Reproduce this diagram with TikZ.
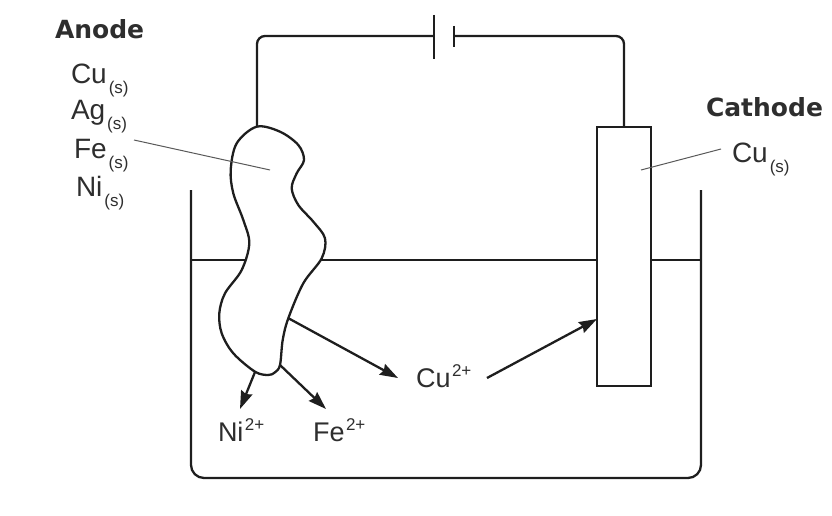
\documentclass[tikz,border=0pt]{standalone}
\usepackage{fontspec}
\setmainfont{Liberation Sans}
\newfontfamily\headfont[BoldFont={DejaVu Sans Bold}]{DejaVu Sans}
\usetikzlibrary{arrows.meta}
\definecolor{ink}{HTML}{1E1E1E}
\definecolor{txt}{HTML}{2E2E2E}
\newcommand{\subs}{\kern2pt\raisebox{-10pt}{\fontsize{17}{17}\selectfont (s)}}
\newcommand{\sups}[1]{\kern1.5pt\raisebox{11pt}{\fontsize{17}{17}\selectfont #1}}
\tikzset{
  x=1pt,y=-1pt,
  wire/.style={draw=ink,line width=2.3pt},
  flow/.style={draw=ink,line width=2.3pt,-{Stealth[length=18pt,width=12pt,inset=2pt]}},
  leader/.style={draw=black!65,line width=1pt},
  chem/.style={anchor=base west,inner sep=0pt,outer sep=0pt,text=txt,font=\fontsize{28}{28}\selectfont},
  ion/.style={anchor=base west,inner sep=0pt,outer sep=0pt,text=txt,font=\fontsize{27}{27}\selectfont},
  head/.style={anchor=base west,inner sep=0pt,outer sep=0pt,text=txt,font=\headfont\bfseries\fontsize{25}{25}\selectfont},
  electrode/.style={draw=ink,line width=2.3pt,fill=white,minimum width=54pt,minimum height=259pt,inner sep=0pt}
}
\begin{document}
\begin{tikzpicture}
\useasboundingbox (0,0) rectangle (832,516);
% beaker
\coordinate (liqL) at (191,260);
\coordinate (liqR) at (701,260);
\draw[wire,rounded corners=13pt] (191,190) -- (191,478) -- (701,478) -- (701,190);
\draw[wire] (liqL) -- (liqR);
% electrodes
\node[electrode] (cathode) at (624,256.5) {};
\draw[wire,fill=white,line join=round] plot[smooth cycle,tension=0.55] coordinates {
 (256.7,126.7) (280,131.7) (298.3,145) (304,160) (296.7,173.3) (291.7,188.3)
 (298.3,205) (313.3,221.7) (325,238.3) (321.7,258.3) (303.3,283.3) (288.3,318.3)
 (282.7,340) (280,365) (275,372.3) (268.3,375) (255,371.7) (233.3,353.3)
 (221.7,333.3) (219.3,313.3) (225,293.3) (241.7,270) (249.3,243.3) (243.3,220)
 (233.3,193.3) (230.7,170) (236.7,143.3)};
\coordinate (blobtop) at (257,127);
\coordinate (blobCu) at (288,318);
\coordinate (blobFe) at (280,365);
\coordinate (blobNi) at (255,372);
% battery
\coordinate (plateL) at (434,36);
\coordinate (plateR) at (454,36);
\coordinate (plateLa) at (434,15);
\coordinate (plateLb) at (434,59);
\coordinate (plateRa) at (454,26);
\coordinate (plateRb) at (454,47);
\draw[wire] (plateLa) -- (plateLb);
\draw[wire] (plateRa) -- (plateRb);
\draw[wire,rounded corners=8pt] (blobtop) |- (plateL);
\draw[wire,rounded corners=8pt] (plateR) -| (cathode.north);
% labels
\node[head] (anode) at (55,38.5) {Anode};
\node[chem] (cu) at (71,84) {Cu\subs};
\node[chem] (ag) at (71,120) {Ag\subs};
\node[chem] (fe) at (74,158) {Fe\subs};
\node[chem] (ni) at (76,196) {Ni\subs};
\node[head] (cath) at (706,117) {Cathode};
\node[chem] (cuc) at (732,162) {Cu\subs};
\node[ion] (cuion) at (416,387) {Cu\sups{2+}};
\node[ion] (niion) at (218,441) {Ni\sups{2+}};
\node[ion] (feion) at (313,441) {Fe\sups{2+}};
% leaders
\coordinate (leadA) at (134,140);
\coordinate (leadAe) at (270,170);
\coordinate (leadC) at (721,149);
\coordinate (leadCe) at (641,170);
\draw[leader] (leadA) -- (leadAe);
\draw[leader] (leadC) -- (leadCe);
% arrows
\coordinate (cuout) at (487,378);
\coordinate (cuin) at (398,378);
\coordinate (catin) at (597,319);
\coordinate (niin) at (240,409);
\coordinate (fein) at (326,409);
\draw[flow] (blobCu) -- (cuin);
\draw[flow] (cuout) -- (catin);
\draw[flow] (blobNi) -- (niin);
\draw[flow] (blobFe) -- (fein);
\end{tikzpicture}
\end{document}
